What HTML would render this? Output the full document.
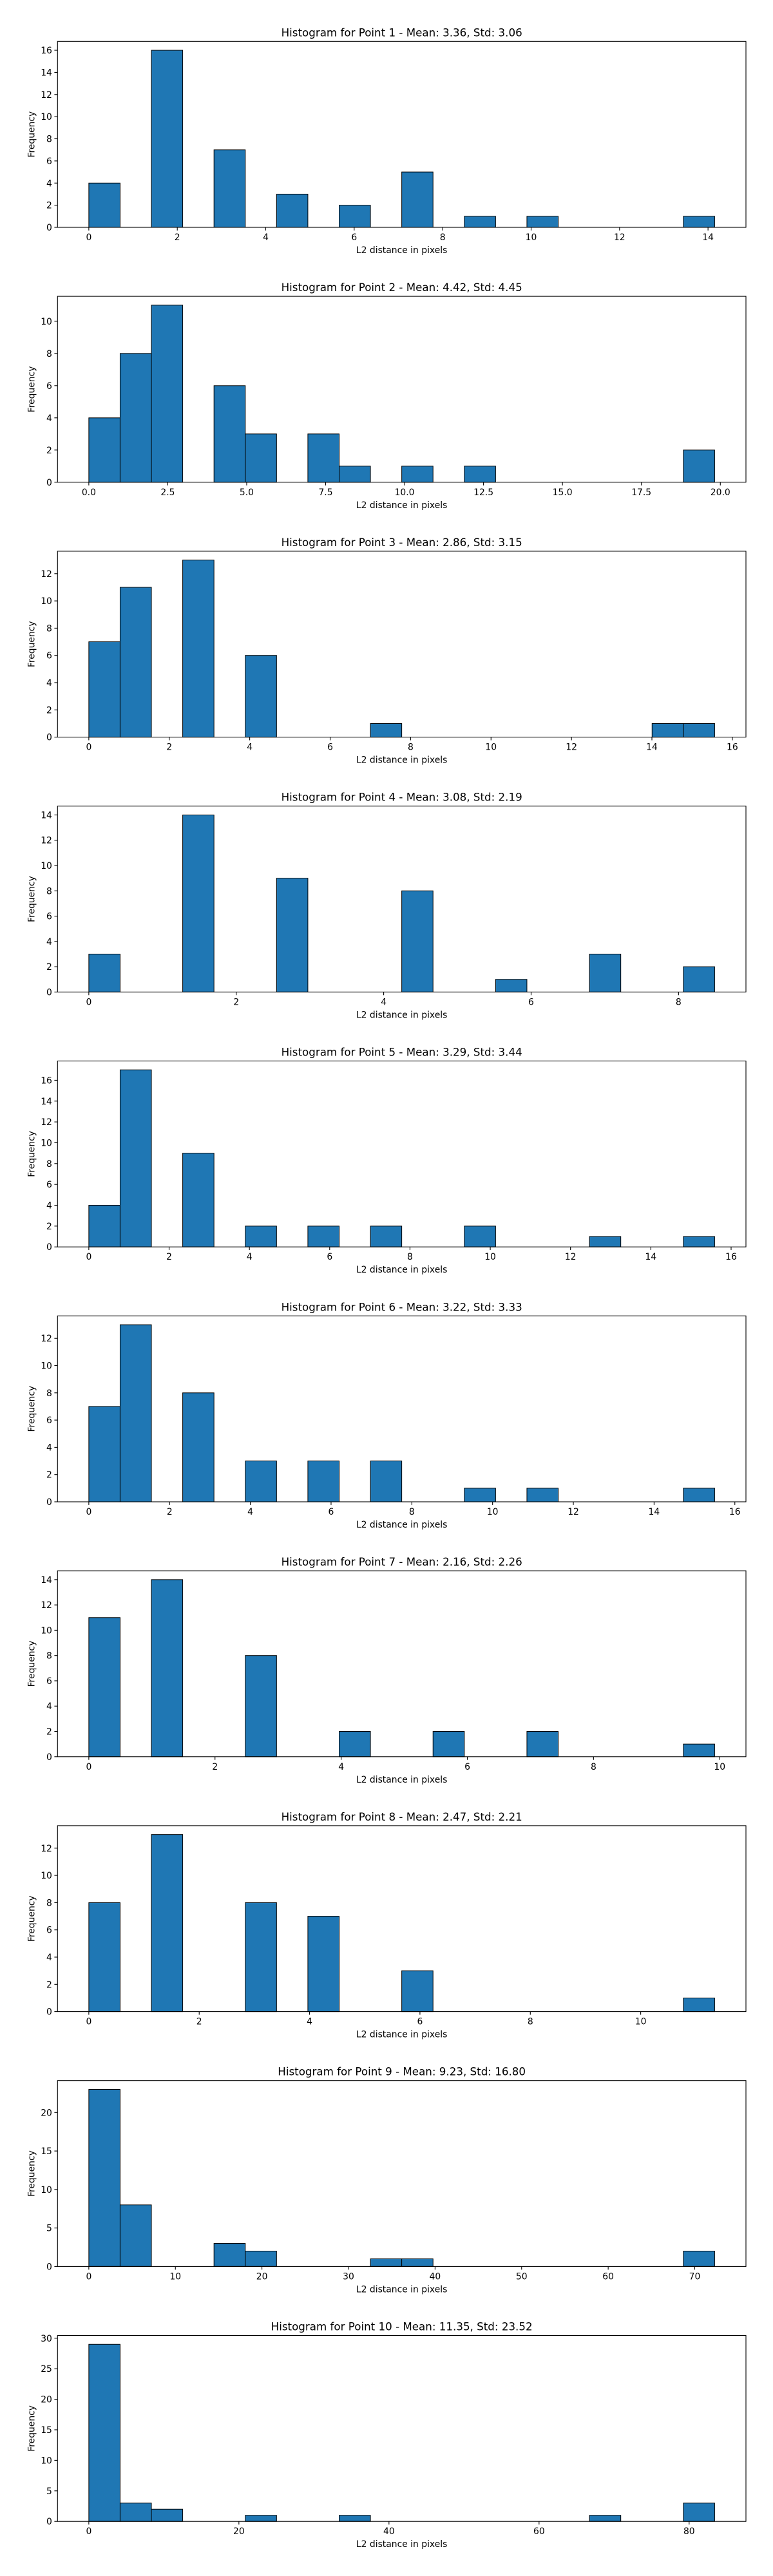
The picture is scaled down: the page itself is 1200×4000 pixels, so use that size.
<!DOCTYPE html>
<html><head><meta charset="utf-8">
<style>
html,body{margin:0;padding:0;background:#fff;}
svg{display:block;font-family:"DejaVu Sans","Liberation Sans",sans-serif;}
</style></head>
<body>
<svg id="fig" width="1200" height="4000" viewBox="0 0 1200 4000" xmlns="http://www.w3.org/2000/svg"></svg>
<script>
const titles = ["Histogram for Point 1 - Mean: 3.36, Std: 3.06","Histogram for Point 2 - Mean: 4.42, Std: 4.45","Histogram for Point 3 - Mean: 2.86, Std: 3.15","Histogram for Point 4 - Mean: 3.08, Std: 2.19","Histogram for Point 5 - Mean: 3.29, Std: 3.44","Histogram for Point 6 - Mean: 3.22, Std: 3.33","Histogram for Point 7 - Mean: 2.16, Std: 2.26","Histogram for Point 8 - Mean: 2.47, Std: 2.21","Histogram for Point 9 - Mean: 9.23, Std: 16.80","Histogram for Point 10 - Mean: 11.35, Std: 23.52"];
const dataMin = [0,0,0,0,0,0,0,0,0,0];
const dataMax = [14.15,19.82,15.56,8.49,15.59,15.5,9.92,11.34,72.3,83.4];
const counts = [
 [4,0,16,0,7,0,3,0,2,0,5,0,1,0,1,0,0,0,0,1],
 [4,8,11,0,6,3,0,3,1,0,1,0,1,0,0,0,0,0,0,2],
 [7,11,0,13,0,6,0,0,0,1,0,0,0,0,0,0,0,0,1,1],
 [3,0,0,14,0,0,9,0,0,0,8,0,0,1,0,0,3,0,0,2],
 [4,17,0,9,0,2,0,2,0,2,0,0,2,0,0,0,1,0,0,1],
 [7,13,0,8,0,3,0,3,0,3,0,0,1,0,1,0,0,0,0,1],
 [11,0,14,0,0,8,0,0,2,0,0,2,0,0,2,0,0,0,0,1],
 [8,0,13,0,0,8,0,7,0,0,3,0,0,0,0,0,0,0,0,1],
 [23,8,0,0,3,2,0,0,0,1,1,0,0,0,0,0,0,0,0,2],
 [29,3,2,0,0,1,0,0,1,0,0,0,0,0,0,0,1,0,0,3]
];
const xTicks = [
 [0,2,4,6,8,10,12,14],
 [0,2.5,5,7.5,10,12.5,15,17.5,20],
 [0,2,4,6,8,10,12,14,16],
 [0,2,4,6,8],
 [0,2,4,6,8,10,12,14,16],
 [0,2,4,6,8,10,12,14,16],
 [0,2,4,6,8,10],
 [0,2,4,6,8,10],
 [0,10,20,30,40,50,60,70],
 [0,20,40,60,80]
];
const xTickDecimals = [0,1,0,0,0,0,0,0,0,0];
const yTicks = [
 [0,2,4,6,8,10,12,14,16],
 [0,2,4,6,8,10],
 [0,2,4,6,8,10,12],
 [0,2,4,6,8,10,12,14],
 [0,2,4,6,8,10,12,14,16],
 [0,2,4,6,8,10,12],
 [0,2,4,6,8,10,12,14],
 [0,2,4,6,8,10,12],
 [0,5,10,15,20],
 [0,5,10,15,20,25,30]
];

const NS = "http://www.w3.org/2000/svg";
const fig = document.getElementById('fig');
function mk(tag, attrs, parent){ const e=document.createElementNS(NS,tag); for(const k in attrs) e.setAttribute(k,attrs[k]); parent.appendChild(e); return e; }

const L=89.3, R=1158, H=288.7, TOP0=64.3, PITCH=395.8;
for(let p=0;p<10;p++){
  const top=TOP0+p*PITCH, bot=top+H;
  const g=mk('g',{},fig);
  
  
  const mn=dataMin[p], mx=dataMax[p], rng=mx-mn;
  const x0=mn-0.05*rng, x1=mx+0.05*rng;
  const c=counts[p]; const cmax=Math.max(...c); const y1=cmax*1.05;
  const sx=v=>L+(v-x0)/(x1-x0)*(R-L);
  const sy=v=>bot-v/y1*H;
  const bw=rng/c.length;
  // bars
  for(let i=0;i<c.length;i++){
    if(c[i]<=0) continue;
    const a=sx(mn+i*bw), b=sx(mn+(i+1)*bw);
    const r=mk('rect',{x:a,y:sy(c[i]),width:b-a,height:bot-sy(c[i]),fill:'#1f77b4',stroke:'#000','stroke-width':1},g);
    
    
  }
  // frame
  const fr=mk('rect',{x:L,y:top,width:R-L,height:H,fill:'none',stroke:'#000','stroke-width':1.1},g);
  
  
  // x ticks
  xTicks[p].forEach(t=>{
    const x=sx(t);
    mk('line',{x1:x,x2:x,y1:bot,y2:bot+4.9,stroke:'#000','stroke-width':1.1},g);
    const tx=mk('text',{x:x,y:bot+20,'text-anchor':'middle','font-size':13.9,fill:'#000'},g);
    tx.textContent=t.toFixed(xTickDecimals[p]);
    
    
  });
  // y ticks
  yTicks[p].forEach(t=>{
    const y=sy(t);
    mk('line',{x1:L-4.9,x2:L,y1:y,y2:y,stroke:'#000','stroke-width':1.1},g);
    const tx=mk('text',{x:L-8.4,y:y+5,'text-anchor':'end','font-size':13.9,fill:'#000'},g);
    tx.textContent=String(t);
    
    
  });
  const ti=mk('text',{x:(L+R)/2,y:top-8,'text-anchor':'middle','font-size':16.7,fill:'#000'},g);
  ti.textContent=titles[p];
  
  
  const xl=mk('text',{x:(L+R)/2,y:bot+40,'text-anchor':'middle','font-size':13.9,fill:'#000'},g);
  xl.textContent='L2 distance in pixels';
  
  
  const cy=top+H/2;
  const yl=mk('text',{x:53.5,y:cy,'text-anchor':'middle','font-size':13.9,fill:'#000',transform:'rotate(-90 53.5 '+cy+')'},g);
  yl.textContent='Frequency';
  
  
}
</script>
</body></html>
